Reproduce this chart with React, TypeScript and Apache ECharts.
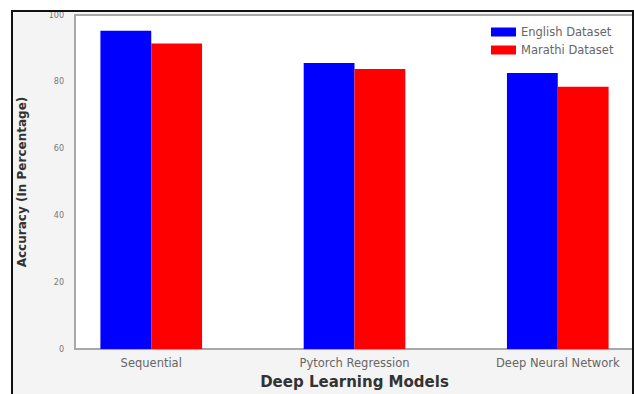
import React, { useEffect, useRef } from "react";
import * as echarts from "echarts";

const categories = ["Sequential", "Pytorch Regression", "Deep Neural Network"];
const englishAccuracy = [95.3, 85.6, 82.6];
const marathiAccuracy = [91.5, 83.8, 78.5];
const seriesNames = ["English Dataset", "Marathi Dataset"];
const yTicks = [0, 20, 40, 60, 80, 100];

export default function App() {
  const ref = useRef<HTMLDivElement>(null);
  useEffect(() => {
    document.body.style.margin = "0";
    document.body.style.overflow = "hidden";
    const chart = echarts.init(ref.current!, undefined, { renderer: "svg" });
    const toPoints = (vals: number[]) => vals.map((v, i) => [i, v]);
    chart.setOption({
      animation: false,
      backgroundColor: "transparent",
      textStyle: { fontFamily: "DejaVu Sans" },
      grid: {
        left: 75,
        top: 15,
        width: 560,
        height: 340,
        show: true,
        backgroundColor: "#ffffff",
        borderColor: "#a8a8a8",
        borderWidth: 2,
      },
      legend: {
        orient: "vertical",
        left: 486,
        top: 21,
        itemWidth: 25,
        itemHeight: 9,
        itemGap: 6,
        icon: "rect",
        textStyle: { fontSize: 11.5, color: "#666" },
        data: seriesNames,
      },
      xAxis: {
        type: "value",
        min: -0.375,
        max: 2.375,
        minInterval: 1,
        maxInterval: 1,
        splitLine: { show: false },
        axisLine: { show: false },
        axisTick: { show: false },
        axisLabel: {
          fontSize: 11.5,
          color: "#666",
          margin: 8,
          showMinLabel: false,
          showMaxLabel: false,
          formatter: (v: number) =>
            Number.isInteger(v) && categories[v] !== undefined ? categories[v] : "",
        },
        name: "Deep Learning Models",
        nameLocation: "middle",
        nameGap: 25,
        nameTextStyle: { fontSize: 15, fontWeight: "bold", color: "#333" },
      },
      yAxis: {
        type: "value",
        min: yTicks[0],
        max: yTicks[yTicks.length - 1],
        interval: yTicks[1] - yTicks[0],
        splitLine: { show: false },
        axisLine: { show: false },
        axisTick: { show: true, length: 3, lineStyle: { color: "#aaa" } },
        axisLabel: { fontSize: 8, color: "#777", margin: 11 },
        name: "Accuracy (In Percentage)",
        nameLocation: "middle",
        nameGap: 47,
        nameTextStyle: { fontSize: 12, fontWeight: "bold", color: "#333" },
      },
      series: [
        {
          name: seriesNames[0],
          type: "bar",
          data: toPoints(englishAccuracy),
          barWidth: "25%",
          barGap: "0%",
          itemStyle: { color: "#0000ff" },
        },
        {
          name: seriesNames[1],
          type: "bar",
          data: toPoints(marathiAccuracy),
          barWidth: "25%",
          barGap: "0%",
          itemStyle: { color: "#ff0000" },
        },
      ],
    });
    return () => chart.dispose();
  }, []);
  return (
    <div style={{ position: "relative", width: 634, height: 394, overflow: "hidden", background: "#ffffff" }}>
      <div
        style={{
          position: "absolute",
          left: 11,
          top: 10,
          width: 623,
          height: 420,
          background: "#f4f4f4",
        }}
      />
      <div ref={ref} style={{ position: "absolute", left: 0, top: 0, width: 634, height: 394 }} />
      <div
        style={{
          position: "absolute",
          left: 11,
          top: 10,
          width: 619,
          height: 420,
          border: "2px solid #111",
          pointerEvents: "none",
        }}
      />
    </div>
  );
}
